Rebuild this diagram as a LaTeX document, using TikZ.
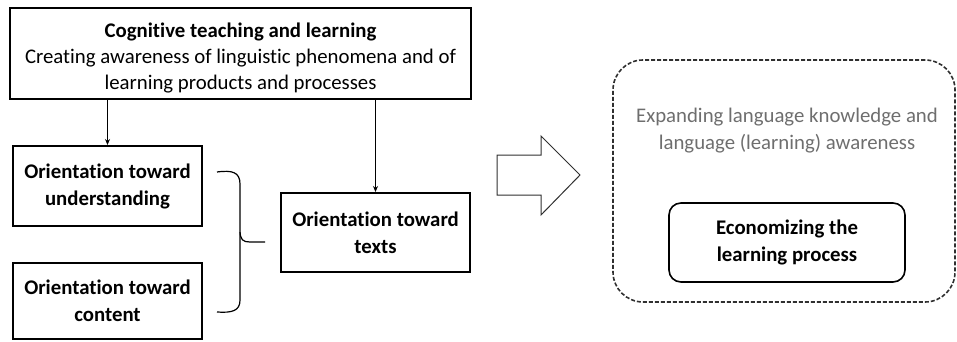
\documentclass[tikz,border=0pt]{standalone}
\usepackage{fontspec}
\setmainfont{Carlito}[Ligatures=NoCommon]
\usetikzlibrary{arrows.meta}
\definecolor{graytext}{HTML}{6E6E6E}
\definecolor{darkline}{HTML}{303030}
\begin{document}
\begin{tikzpicture}[x=1pt,y=-1pt,
  box/.style={draw=black, line width=2pt, minimum width=#1, align=center, inner sep=0pt, font=\fontsize{20.8}{27}\selectfont\bfseries},
  conn/.style={line width=1pt, -{Stealth[length=6pt,width=5pt]}},
]
\useasboundingbox (0,0) rectangle (957,342);
\node[box=461pt, minimum height=91pt] (top) at (240.5,53.5) {};
\node[align=center, inner sep=0pt, font=\fontsize{20.8}{26}\selectfont] (toptext) at (240.5,58)
  {\textbf{Cognitive teaching and learning}\\Creating awareness of linguistic phenomena and of\\learning products and processes};
\node[box=189pt, minimum height=80pt] (u) at (107.5,186) {Orientation toward\\understanding};
\node[box=189pt, minimum height=76pt] (c) at (107.5,301) {Orientation toward\\content};
\node[box=189pt, minimum height=79pt] (t) at (375.5,232.5) {Orientation toward\\texts};
\draw[conn] (top.south -| u.north) -- (u.north);
\draw[conn] (top.south -| t.north) -- (t.north);
% brace
\coordinate (btop) at (217,172);
\coordinate (bbot) at (217,312);
\coordinate (btip) at (265,242);
\draw[line width=1.2pt, line join=round]
  (btop) .. controls (232,170) and (240,172) .. (240,184)
  -- (240,230) .. controls (240,240) and (243,242) .. (btip -| 250,0)
  -- (btip);
\draw[line width=1.2pt, line join=round]
  (240,232) -- (240,300) .. controls (240,311) and (232,313) .. (bbot);
% hollow arrow
\draw[line width=1pt, draw=darkline, fill=white, line join=miter]
  (497,155) coordinate (a1) -- (541,155) -- (541,136) -- (580,175) coordinate (atip) -- (541,215) -- (541,195) -- (497,195) -- cycle;
% dashed region
\node[draw=darkline, dashed, dash pattern=on 4pt off 2pt, line width=1.6pt, rounded corners=30pt,
  minimum width=342pt, minimum height=242pt, inner sep=0pt] (region) at (784,181) {};
\node[text=graytext, align=center, font=\fontsize{20.8}{27}\selectfont] (exp) at (787,131)
  {Expanding language knowledge and\\language (learning) awareness};
\node[draw=black, line width=1.6pt, rounded corners=12pt, minimum width=236pt, minimum height=79pt,
  align=center, inner sep=0pt, font=\fontsize{20.8}{27}\selectfont\bfseries] (eco) at (787,242.5)
  {Economizing the\\learning process};
\end{tikzpicture}
\end{document}
